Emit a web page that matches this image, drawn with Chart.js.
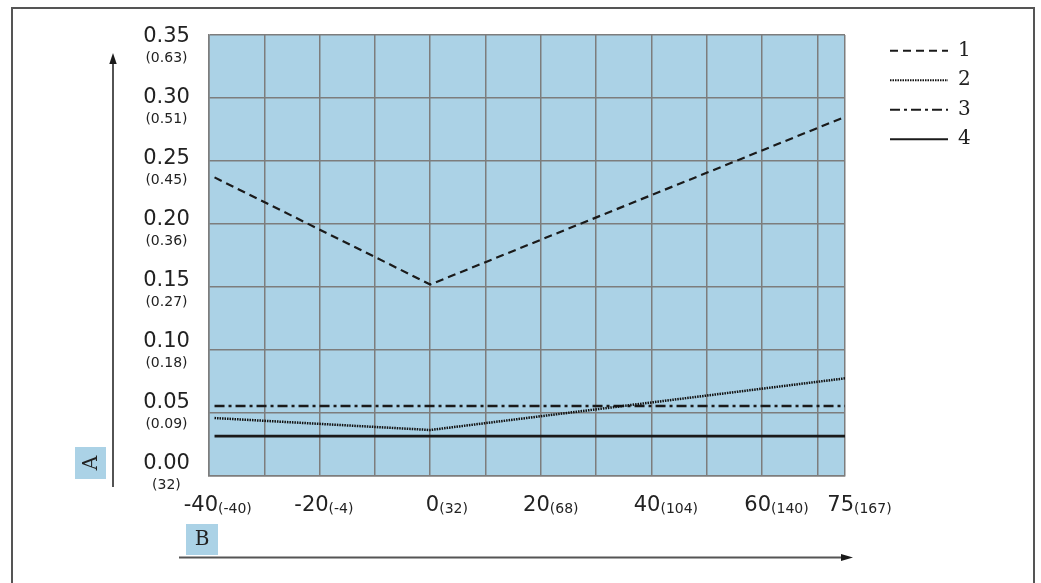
<!DOCTYPE html>
<html>
<head>
<meta charset="utf-8">
<script src="https://cdn.jsdelivr.net/npm/chart.js@4.4.1/dist/chart.umd.min.js"></script>
<style>
  html, body { margin: 0; padding: 0; background: #ffffff; }
  #wrap { width: 1041px; height: 583px; }
</style>
</head>
<body>
<div id="wrap"><canvas id="c" width="1041" height="583"></canvas></div>
<script>
// ---------- data ----------
const seriesNames = ['1', '2', '3', '4'];
const xVee = [-39, 0, 75];          // x positions of series 1 and 2 (°C)
const xFlat = [-39, 75];            // x positions of series 3 and 4 (°C)
const series1 = [0.237, 0.152, 0.285];
const series2 = [0.046, 0.0365, 0.0775];
const series3 = [0.0555, 0.0555];
const series4 = [0.0317, 0.0317];

const xMin = -40, xMax = 75, xStep = 10;
const yMin = 0, yMax = 0.35, yStep = 0.05;

const xTickValues = [-40, -20, 0, 20, 40, 60, 75];
const xTickLabels = ['-40', '-20', '0', '20', '40', '60', '75'];
const xTickLabelsAlt = ['(-40)', '(-4)', '(32)', '(68)', '(104)', '(140)', '(167)'];

const yTickValues = [0, 0.05, 0.10, 0.15, 0.20, 0.25, 0.30, 0.35];
const yTickLabels = ['0.00', '0.05', '0.10', '0.15', '0.20', '0.25', '0.30', '0.35'];
const yTickLabelsAlt = ['(32)', '(0.09)', '(0.18)', '(0.27)', '(0.36)', '(0.45)', '(0.51)', '(0.63)'];

// ---------- styles ----------
const BLUE = '#abd2e6';
const GRID = '#7d7d7d';
const INK = '#1a1a1a';
const SANS = "'DejaVu Sans', sans-serif";
const SERIF = "'DejaVu Serif', serif";

const toPts = (xs, ys) => xs.map((x, i) => ({ x: x, y: ys[i] }));

const deco = {
  id: 'deco',
  beforeDraw(chart) {
    const { ctx, chartArea: a } = chart;
    ctx.save();
    ctx.fillStyle = BLUE;
    ctx.fillRect(a.left, a.top, a.right - a.left, a.bottom - a.top);
    ctx.restore();
  },
  afterDraw(chart) {
    const ctx = chart.ctx;
    ctx.save();
    // outer frame
    ctx.strokeStyle = '#555555';
    ctx.lineWidth = 2;
    ctx.strokeRect(12, 8, 1022, 600);
    // y arrow
    ctx.strokeStyle = INK;
    ctx.lineWidth = 1.5;
    ctx.beginPath(); ctx.moveTo(113, 487); ctx.lineTo(113, 62); ctx.stroke();
    ctx.fillStyle = INK;
    ctx.beginPath(); ctx.moveTo(113, 53); ctx.lineTo(109.3, 64); ctx.lineTo(116.7, 64); ctx.closePath(); ctx.fill();
    // x arrow
    ctx.strokeStyle = '#555555';
    ctx.lineWidth = 2;
    ctx.beginPath(); ctx.moveTo(179, 557.5); ctx.lineTo(842, 557.5); ctx.stroke();
    ctx.fillStyle = INK;
    ctx.beginPath(); ctx.moveTo(853, 557.5); ctx.lineTo(841, 554); ctx.lineTo(841, 561); ctx.closePath(); ctx.fill();
    // A / B boxes
    ctx.fillStyle = BLUE;
    ctx.fillRect(75, 447, 31, 32);
    ctx.fillRect(186, 524, 32, 31);
    ctx.fillStyle = '#222222';
    ctx.font = '20px ' + SERIF;
    ctx.textAlign = 'center';
    ctx.textBaseline = 'middle';
    ctx.save();
    ctx.translate(91, 463);
    ctx.rotate(-Math.PI / 2);
    ctx.fillText('A', 0, 1);
    ctx.restore();
    ctx.fillText('B', 202, 540);
    ctx.restore();
  }
};

const setTicks = (vals) => (s) => { s.ticks = vals.map(v => ({ value: v })); };
// overlay label scales take no room of their own, so their labels must not be clipped to their box
const noClip = (s) => { s._computeLabelArea = () => undefined; };

new Chart(document.getElementById('c'), {
  type: 'line',
  data: {
    datasets: [
      { label: seriesNames[0], data: toPts(xVee, series1), borderDash: [8, 5], borderWidth: 2.2, borderColor: INK, xAxisID: 'x', yAxisID: 'y' },
      { label: seriesNames[1], data: toPts(xVee, series2), borderDash: [1.5, 1], borderWidth: 2.5, borderColor: '#111111', xAxisID: 'x', yAxisID: 'y' },
      { label: seriesNames[2], data: toPts(xFlat, series3), borderDash: [10, 4, 3, 4], borderWidth: 2.5, borderColor: INK, xAxisID: 'x', yAxisID: 'y' },
      { label: seriesNames[3], data: toPts(xFlat, series4), borderDash: [], borderWidth: 2.8, borderColor: INK, xAxisID: 'x', yAxisID: 'y' }
    ]
  },
  options: {
    responsive: false,
    animation: false,
    devicePixelRatio: 1,
    layout: { padding: { left: 143, top: 35, right: 70.5, bottom: 65 } },
    elements: {
      point: { radius: 0, hoverRadius: 0 },
      line: { tension: 0, fill: false }
    },
    plugins: {
      tooltip: { enabled: false },
      legend: {
        position: 'right',
        align: 'start',
        maxWidth: 90,
        title: { display: true, text: '', font: { size: 1 }, padding: { top: -5, bottom: 0 } },
        labels: {
          usePointStyle: true,
          pointStyleWidth: 58,
          padding: 9.5,
          color: '#222222',
          font: { family: SERIF, size: 20 },
          generateLabels: (chart) => chart.data.datasets.map((ds, i) => ({
            text: ds.label,
            strokeStyle: ds.borderColor,
            fillStyle: ds.borderColor,
            fontColor: '#222222',
            lineWidth: Math.min(ds.borderWidth, 2),
            lineDash: ds.borderDash,
            lineCap: 'butt',
            pointStyle: 'line',
            rotation: 0,
            hidden: false,
            datasetIndex: i
          }))
        }
      }
    },
    scales: {
      x: {
        type: 'linear', position: 'bottom', weight: 0, min: xMin, max: xMax,
        ticks: { display: false, stepSize: xStep },
        grid: { color: GRID, lineWidth: 1.5, drawTicks: false },
        border: { color: GRID, width: 1.5 }
      },
      xParen: {
        type: 'linear', position: 'bottom', weight: 1, min: xMin, max: xMax,
        afterBuildTicks: setTicks(xTickValues),
        afterFit: (s) => { s.height = 0; noClip(s); },
        grid: { display: false, drawTicks: false },
        border: { display: false },
        ticks: {
          autoSkip: false, maxRotation: 0, align: 'start', labelOffset: 9, padding: 24.6,
          color: '#222222', font: { family: SANS, size: 14 },
          callback: (v, i) => xTickLabelsAlt[i]
        }
      },
      xMain: {
        type: 'linear', position: 'bottom', weight: 2, min: xMin, max: xMax,
        afterBuildTicks: setTicks(xTickValues),
        afterFit: (s) => { s.height = 42; },
        grid: { display: false, drawTicks: false },
        border: { display: false },
        ticks: {
          autoSkip: false, maxRotation: 0, align: 'end', labelOffset: 9, padding: 16.9,
          color: '#222222', font: { family: SANS, size: 21 },
          callback: (v, i) => xTickLabels[i]
        }
      },
      y: {
        type: 'linear', position: 'left', weight: 0, min: yMin, max: yMax,
        ticks: { display: false, stepSize: yStep },
        grid: { color: GRID, lineWidth: 1.5, drawTicks: false },
        border: { color: GRID, width: 1.5 }
      },
      yParen: {
        type: 'linear', position: 'left', weight: 1, min: -0.01025, max: 0.3514,
        afterBuildTicks: setTicks(yTickValues),
        afterFit: (s) => { s.width = 0; noClip(s); },
        grid: { display: false, drawTicks: false },
        border: { display: false },
        ticks: {
          autoSkip: false, crossAlign: 'center', labelOffset: 22, padding: 21.5,
          color: '#222222', font: { family: SANS, size: 14 },
          callback: (v, i) => yTickLabelsAlt[i]
        }
      },
      yMain: {
        type: 'linear', position: 'left', weight: 2, min: -0.01025, max: 0.3514,
        afterBuildTicks: setTicks(yTickValues),
        afterFit: (s) => { s.width = 66; },
        grid: { display: false, drawTicks: false },
        border: { display: false },
        ticks: {
          autoSkip: false, crossAlign: 'center', padding: 19.1,
          color: '#222222', font: { family: SANS, size: 21 },
          callback: (v, i) => yTickLabels[i]
        }
      },
      ySpacer: {
        type: 'linear', position: 'right', weight: 0, min: 0, max: 1,
        afterFit: (s) => { s.width = 35.5; },
        grid: { display: false, drawTicks: false },
        border: { display: false },
        ticks: { display: false }
      }
    }
  },
  plugins: [deco]
});
</script>
</body>
</html>
